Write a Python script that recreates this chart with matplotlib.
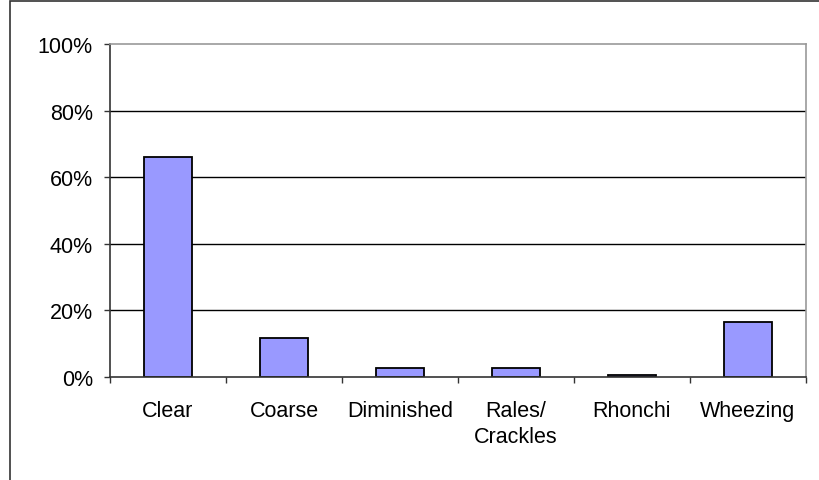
import matplotlib
matplotlib.use("Agg")
import matplotlib.pyplot as plt
from matplotlib.patches import Rectangle
from matplotlib.ticker import PercentFormatter, FixedLocator, NullFormatter

# Breath sound categories and share of patients
categories = ["Clear", "Coarse", "Diminished", "Rales/\nCrackles", "Rhonchi", "Wheezing"]
shares = [0.66, 0.115, 0.025, 0.025, 0.006, 0.165]

plt.rcParams["font.family"] = ["Liberation Sans", "DejaVu Sans"]

W, H = 820, 481
fig = plt.figure(figsize=(W / 100, H / 100), dpi=100)

# outer chart border (only left and top edges inside the picture)
fig.patches.append(Rectangle((10 / W, -0.1), 1.2, 1.1 - 1.5 / H, transform=fig.transFigure,
                             fill=False, edgecolor="#333333", linewidth=1.2))

ax = fig.add_axes([110 / W, 1 - 377.7 / H, (806 - 110) / W, (377.7 - 45) / H])

x = list(range(len(categories)))
ax.bar(x, shares, width=0.42, color="#9999FF", edgecolor="black", linewidth=1.3, zorder=3)

ax.set_xlim(-0.5, len(categories) - 0.5)
ax.set_ylim(0, 1)

# gridlines
for v in [0.2, 0.4, 0.6, 0.8]:
    ax.axhline(v, color="black", linewidth=1.0, zorder=1)

ax.set_yticks([0, 0.2, 0.4, 0.6, 0.8, 1.0])
ax.yaxis.set_major_formatter(PercentFormatter(1.0, decimals=0))
ax.tick_params(axis="y", direction="out", length=4.3, width=1, color="#333333",
               labelsize=15.5, pad=8)

ax.set_xticks(x)
ax.set_xticklabels(categories, linespacing=1.3)
ax.xaxis.set_minor_locator(FixedLocator([i - 0.5 for i in range(len(categories) + 1)]))
ax.xaxis.set_minor_formatter(NullFormatter())
ax.tick_params(axis="x", which="major", length=0, labelsize=15.5, pad=17)
ax.tick_params(axis="x", which="minor", direction="out", length=4.3, width=1, color="#333333")

for s in ["left", "bottom"]:
    ax.spines[s].set_color("#333333")
    ax.spines[s].set_linewidth(1.2)
for s in ["top", "right"]:
    ax.spines[s].set_color("#999999")
    ax.spines[s].set_linewidth(1.2)
for s in ax.spines.values():
    s.set_zorder(4)

fig.savefig("out.png", dpi=100)
